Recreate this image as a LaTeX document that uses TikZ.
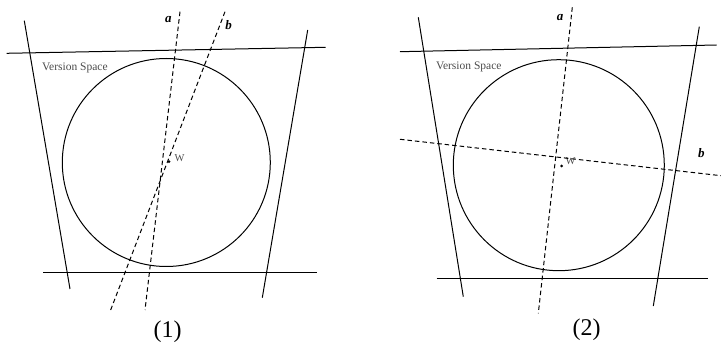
\documentclass[tikz,border=0pt]{standalone}
\usepackage{fontspec}
\setmainfont{Liberation Serif}

\begin{document}
\begin{tikzpicture}[x=1pt, y=-1pt, line width=1pt,
    bound/.style={line width=1pt},
    cut/.style={line width=1pt, dash pattern=on 4.5pt off 3pt},
    lab/.style={font=\fontsize{13}{14}\selectfont\bfseries\itshape, inner sep=0pt},
    vs/.style={font=\fontsize{11.5}{12}\selectfont, text=black!70, inner sep=0pt},
    wlab/.style={font=\fontsize{10.5}{11}\selectfont, text=black!70, inner sep=0pt},
    caption/.style={font=\fontsize{24}{26}\selectfont, inner sep=0pt}]
    \useasboundingbox (0,0) rectangle (721,347);

    % 图 (1)
    % 四条边界
    \draw[bound] (6.7,53.3) -- (325.7,47.3);
    \draw[bound] (24.3,20.7) -- (70,289);
    \draw[bound] (307.7,30) -- (262.3,297.7);
    \draw[bound] (43.3,272.3) -- (316.7,272.3);

    % 内切圆及中心 W
    \coordinate (W1) at (169,161.7);
    \draw (166.3,162.5) circle (104);
    \fill (W1) circle (1.5pt);
    \node[wlab] (lw1) at (179.5,158.3) {W};
    \node[vs, anchor=west] (vs1) at (41.7,68) {Version Space};

    % 两条虚线 a, b
    \draw[cut] (180,11.7) -- (145,310);
    \draw[cut] (225,11.7) -- (110,311.7);
    \node[lab] (a1) at (168.3,20) {a};
    \node[lab] (b1) at (228.5,25) {b};

    \node[caption] (c1) at (167.5,332) {(1)};

    % 图 (2)
    % 四条边界
    \draw[bound] (400,51.7) -- (716.7,45);
    \draw[bound] (418.3,17.3) -- (463.3,296.7);
    \draw[bound] (699.3,26.7) -- (653.3,306);
    \draw[bound] (436.7,278.3) -- (708.3,278.3);

    % 内切圆及中心 W
    \coordinate (W2) at (561.7,166);
    \draw (558.8,165.2) circle (105.5);
    \fill (W2) circle (1.5pt);
    \node[wlab] (lw2) at (570.5,160.8) {W};
    \node[vs, anchor=west] (vs2) at (435.5,66.7) {Version Space};

    % 两条虚线 a, b
    \draw[cut] (572.3,7.3) -- (538.3,313.3);
    \draw[cut] (400,139.3) -- (721,175.7);
    \node[lab] (a2) at (560,17.3) {a};
    \node[lab] (b2) at (701.3,152.7) {b};

    \node[caption] (c2) at (586.7,330) {(2)};
\end{tikzpicture}
\end{document}
